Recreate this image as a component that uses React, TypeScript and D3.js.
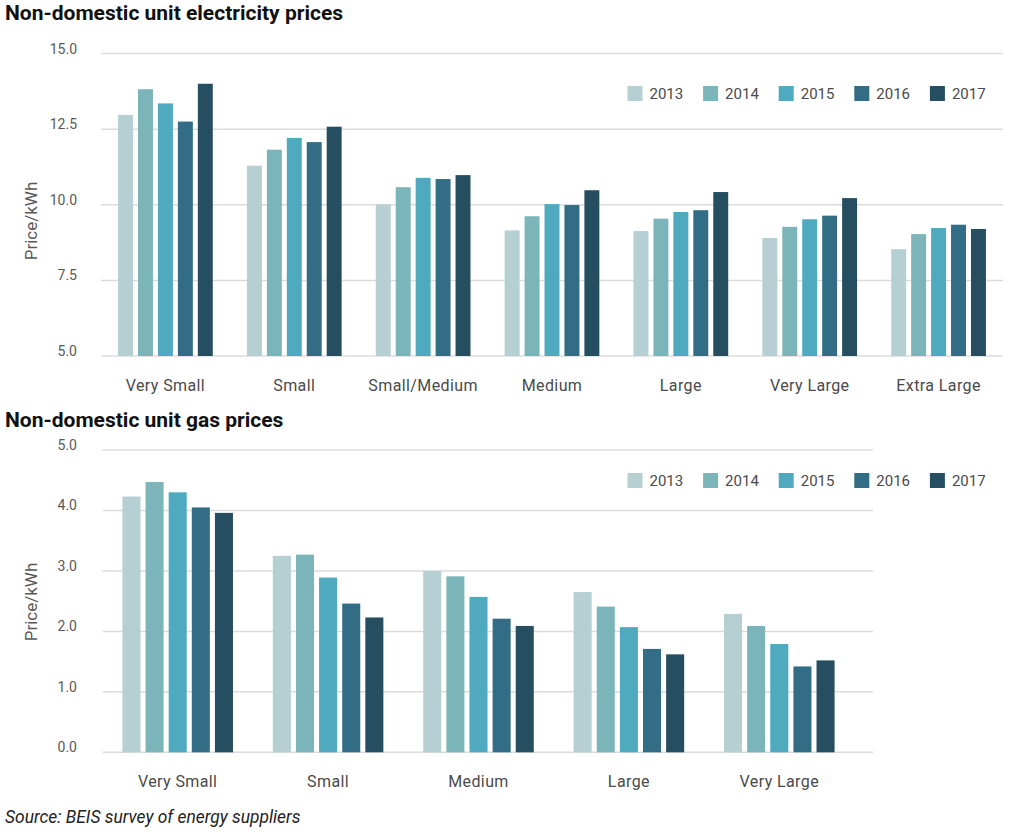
import { useEffect, useRef } from 'react';
import * as d3 from 'd3';

const years = ['2013', '2014', '2015', '2016', '2017'];
const colors = ['#b5cfd3', '#7bb5b9', '#4fa9bf', '#326d85', '#254e61'];

const elecCategories = ['Very Small', 'Small', 'Small/Medium', 'Medium', 'Large', 'Very Large', 'Extra Large'];
const elecValues = [
  [12.97, 13.82, 13.35, 12.75, 14.0],
  [11.29, 11.82, 12.21, 12.07, 12.58],
  [10.01, 10.58, 10.89, 10.85, 10.98],
  [9.15, 9.62, 10.02, 9.99, 10.48],
  [9.13, 9.54, 9.76, 9.82, 10.42],
  [8.9, 9.27, 9.52, 9.64, 10.22],
  [8.53, 9.03, 9.23, 9.34, 9.2],
];
const elecTicks = [5.0, 7.5, 10.0, 12.5, 15.0];

const gasCategories = ['Very Small', 'Small', 'Medium', 'Large', 'Very Large'];
const gasValues = [
  [4.23, 4.47, 4.3, 4.05, 3.96],
  [3.25, 3.27, 2.89, 2.46, 2.23],
  [3.0, 2.91, 2.57, 2.21, 2.09],
  [2.65, 2.41, 2.07, 1.71, 1.62],
  [2.29, 2.09, 1.79, 1.42, 1.52],
];
const gasTicks = [0, 1, 2, 3, 4, 5];

const FONT = 'Roboto, "DejaVu Sans", sans-serif';

interface PanelOpts {
  title: string;
  titleY: number;
  categories: string[];
  values: number[][];
  ticks: number[];
  domain: [number, number];
  yRange: [number, number];
  gridX: [number, number];
  bandX: [number, number];
  innerPad: number;
  legendY: number;
  catLabelY: number;
  yLabelY: number;
}

function drawPanel(svg: d3.Selection<SVGSVGElement, unknown, null, undefined>, o: PanelOpts) {
  const g = svg.append('g');

  g.append('text')
    .attr('x', 5)
    .attr('y', o.titleY)
    .style('font-family', FONT)
    .style('font-weight', 'bold')
    .style('font-size', '21px')
    .style('fill', '#111')
    .text(o.title);

  const y = d3.scaleLinear().domain(o.domain).range(o.yRange);

  // gridlines + tick labels
  g.selectAll('.grid')
    .data(o.ticks)
    .join('line')
    .attr('x1', o.gridX[0])
    .attr('x2', o.gridX[1])
    .attr('y1', d => y(d))
    .attr('y2', d => y(d))
    .attr('stroke', '#dcdcdc')
    .attr('stroke-width', 1.5);

  g.selectAll('.tick-label')
    .data(o.ticks)
    .join('text')
    .attr('x', 77)
    .attr('y', d => y(d))
    .attr('text-anchor', 'end')
    .style('font-family', FONT)
    .style('font-size', '14px')
    .style('fill', '#595959')
    .text(d => d.toFixed(1));

  g.append('text')
    .attr('transform', `translate(37,${o.yLabelY}) rotate(-90)`)
    .attr('text-anchor', 'middle')
    .style('font-family', FONT)
    .style('font-size', '17px')
    .style('fill', '#595959')
    .text('Price/kWh');

  const x0 = d3.scaleBand<string>()
    .domain(o.categories)
    .range(o.bandX)
    .paddingInner(0.265)
    .paddingOuter(0.1325);

  const x1 = d3.scaleBand<string>()
    .domain(years)
    .range([0, x0.bandwidth()])
    .paddingInner(o.innerPad);

  const groups = g.selectAll('.group')
    .data(o.categories)
    .join('g')
    .attr('transform', d => `translate(${x0(d)},0)`);

  groups.selectAll('rect')
    .data((_, i) => o.values[i].map((v, j) => ({ year: years[j], value: v, j })))
    .join('rect')
    .attr('x', d => x1(d.year) || 0)
    .attr('y', d => y(d.value))
    .attr('width', x1.bandwidth())
    .attr('height', d => y(o.domain[0]) - y(d.value))
    .attr('fill', d => colors[d.j]);

  groups.append('text')
    .attr('x', x0.bandwidth() / 2)
    .attr('y', o.catLabelY)
    .attr('text-anchor', 'middle')
    .style('font-family', FONT)
    .style('font-size', '16px')
    .style('letter-spacing', '0.4px')
    .style('fill', '#4a4a4a')
    .text(d => d);

  // legend
  const legend = g.selectAll('.legend')
    .data(years)
    .join('g')
    .attr('transform', (_, i) => `translate(${627.5 + i * 75.6},${o.legendY})`);
  legend.append('rect')
    .attr('x', 0)
    .attr('y', -7.5)
    .attr('width', 15)
    .attr('height', 15)
    .attr('fill', (_, i) => colors[i]);
  legend.append('text')
    .attr('x', 22)
    .attr('y', 0)
    .attr('dy', '0.36em')
    .style('font-family', FONT)
    .style('font-size', '15px')
    .style('fill', '#4a4a4a')
    .text(d => d);
}

export default function App() {
  const svgRef = useRef<SVGSVGElement>(null);

  useEffect(() => {
    if (!svgRef.current) return;
    const svg = d3.select(svgRef.current);
    svg.selectAll('*').remove();

    drawPanel(svg, {
      title: 'Non-domestic unit electricity prices',
      titleY: 20,
      categories: elecCategories,
      values: elecValues,
      ticks: elecTicks,
      domain: [5, 15],
      yRange: [356, 53.5],
      gridX: [101, 1003],
      bandX: [101, 1003],
      innerPad: 0.25,
      legendY: 93.5,
      catLabelY: 391,
      yLabelY: 221,
    });

    drawPanel(svg, {
      title: 'Non-domestic unit gas prices',
      titleY: 427,
      categories: gasCategories,
      values: gasValues,
      ticks: gasTicks,
      domain: [0, 5],
      yRange: [752.3, 450],
      gridX: [102.7, 873],
      bandX: [102.5, 854.5],
      innerPad: 0.22,
      legendY: 480.5,
      catLabelY: 787,
      yLabelY: 602,
    });

    svg.append('text')
      .attr('x', 5)
      .attr('y', 823)
      .style('font-family', FONT)
      .style('font-style', 'italic')
      .style('font-size', '17.4px')
      .style('fill', '#222')
      .text('Source: BEIS survey of energy suppliers');
  }, []);

  return (
    <svg
      ref={svgRef}
      width={1024}
      height={839}
      style={{ position: 'absolute', left: 0, top: 0, background: '#fff' }}
    />
  );
}
